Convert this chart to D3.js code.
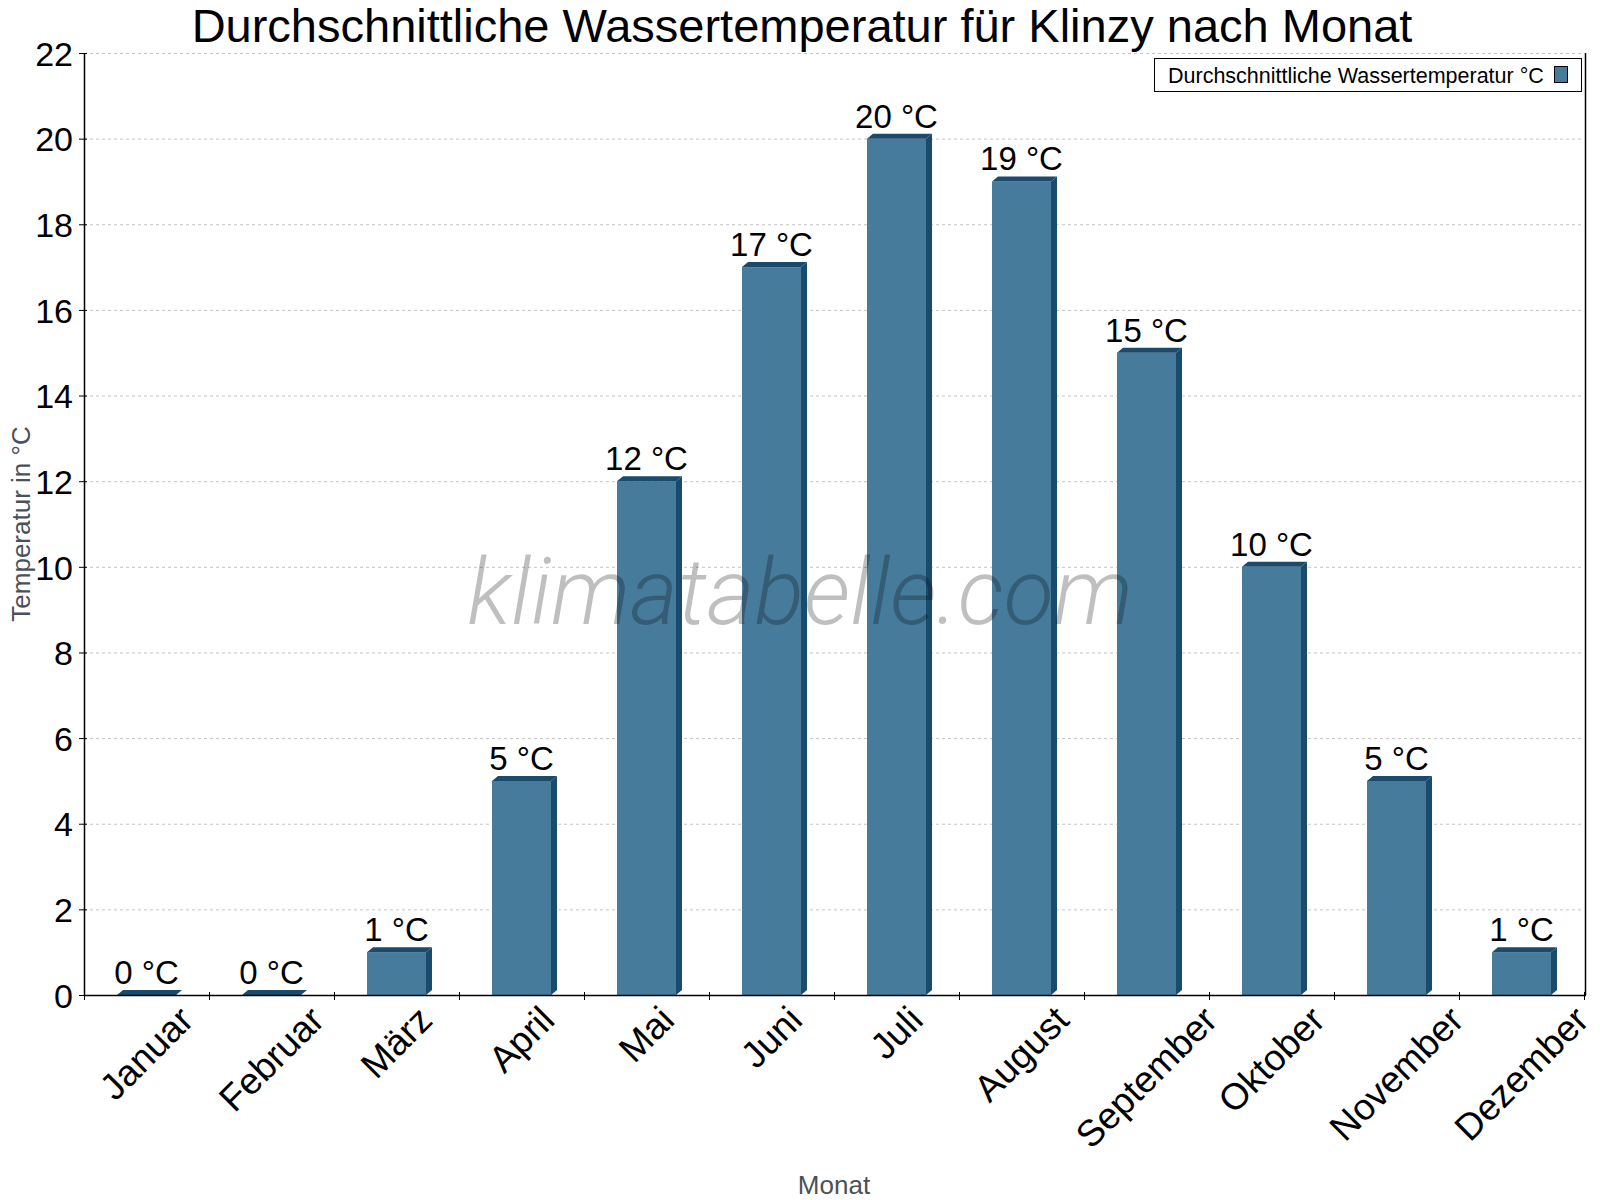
<!DOCTYPE html>
<html>
<head>
<meta charset="utf-8">
<script src="https://cdn.jsdelivr.net/npm/d3@7"></script>
<style>
  html, body { margin: 0; padding: 0; background: #fff; }
</style>
</head>
<body>
<div id="chart-container"></div>
<script>
// Daten: Wassertemperatur je Monat
const monate = ["Januar", "Februar", "März", "April", "Mai", "Juni", "Juli",
    "August", "September", "Oktober", "November", "Dezember"];
const temperaturen = [0, 0, 1, 5, 12, 17, 20, 19, 15, 10, 5, 1];
const yTicks = [0, 2, 4, 6, 8, 10, 12, 14, 16, 18, 20, 22];

const titel = "Durchschnittliche Wassertemperatur für Klinzy nach Monat";
const legendeText = "Durchschnittliche Wassertemperatur °C";

const width = 1600;
const height = 1200;
const plot = { left: 84, right: 1584, top: 53, bottom: 995 };
const font = "'Liberation Sans', Arial, Helvetica, sans-serif";
const farbeFront = "#467b9c";
const farbeDunkel = "#1b4b6c";
const tiefeX = 6, tiefeY = 5; // 3D-Effekt

const svg = d3.select("#chart-container")
    .append("svg")
    .attr("width", width)
    .attr("height", height)
    .style("font-family", font);

// Skalen
const xScale = d3.scaleBand()
    .domain(monate)
    .range([plot.left, plot.right])
    .paddingInner(0.528)
    .paddingOuter(0.264);

const xGrenzen = d3.scaleLinear()
    .domain([0, monate.length])
    .range([plot.left, plot.right]);

const yScale = d3.scaleLinear()
    .domain([0, 22])
    .range([plot.bottom, plot.top]);

// Gitterlinien
svg.append("g")
    .selectAll("line")
    .data(yTicks)
    .enter()
    .append("line")
    .attr("x1", plot.left)
    .attr("x2", plot.right)
    .attr("y1", d => yScale(d) + 0.5)
    .attr("y2", d => yScale(d) + 0.5)
    .attr("stroke", "#c4c4c4")
    .attr("stroke-width", 1)
    .attr("stroke-dasharray", "3,3");

// Balken (mit 3D-Kante)
const balken = svg.append("g")
    .selectAll("g")
    .data(monate.map((m, i) => ({ monat: m, wert: temperaturen[i] })))
    .enter()
    .append("g");

balken.append("rect")
    .attr("x", d => xScale(d.monat))
    .attr("y", d => yScale(d.wert))
    .attr("width", xScale.bandwidth())
    .attr("height", d => yScale(0) - yScale(d.wert))
    .attr("fill", farbeFront);

// Oberseite
balken.append("polygon")
    .attr("points", d => {
        const x0 = xScale(d.monat), x1 = x0 + xScale.bandwidth(), y = yScale(d.wert);
        return [[x0, y], [x0 + tiefeX, y - tiefeY], [x1 + tiefeX, y - tiefeY], [x1, y]].join(" ");
    })
    .attr("fill", farbeDunkel);

// Seite
balken.append("polygon")
    .attr("points", d => {
        const x1 = xScale(d.monat) + xScale.bandwidth(), y = yScale(d.wert), y0 = yScale(0);
        return [[x1, y], [x1 + tiefeX, y - tiefeY], [x1 + tiefeX, y0 - tiefeY], [x1, y0]].join(" ");
    })
    .attr("fill", farbeDunkel);

// Wertbeschriftungen
balken.append("text")
    .attr("x", d => xScale(d.monat) + xScale.bandwidth() / 2)
    .attr("y", d => yScale(d.wert) - 11)
    .attr("text-anchor", "middle")
    .style("font-size", "33px")
    .style("fill", "#000")
    .text(d => `${d.wert} °C`);

// Wasserzeichen (über den Balken)
svg.append("text")
    .attr("x", 800)
    .attr("y", 624)
    .attr("text-anchor", "middle")
    .style("font-family", "Roboto, 'Open Sans', sans-serif")
    .style("font-style", "italic")
    .style("font-weight", 300)
    .style("font-size", "92px")
    .style("fill", "#000")
    .style("fill-opacity", 0.25)
    .text("klimatabelle.com");

// y-Achse
const yAchse = svg.append("g")
    .attr("transform", `translate(${plot.left},0)`)
    .call(d3.axisLeft(yScale).tickValues(yTicks).tickSize(5).tickPadding(6));
yAchse.select(".domain").attr("stroke", "#000").attr("stroke-width", 1.5).attr("d", `M0.5,${plot.top}V${plot.bottom}`);
yAchse.selectAll(".tick line").attr("x1", 3).attr("x2", -5).attr("stroke", "#000");
yAchse.selectAll(".tick text")
    .style("font-family", font)
    .style("font-size", "34px")
    .attr("dy", "0.36em")
    .style("fill", "#000");

// rechte Begrenzung
svg.append("line")
    .attr("x1", plot.right + 1.5)
    .attr("x2", plot.right + 1.5)
    .attr("y1", plot.top)
    .attr("y2", plot.bottom)
    .attr("stroke", "#000")
    .attr("stroke-width", 1.5);

// x-Achse: Striche an den Kategoriegrenzen
const xAchse = svg.append("g")
    .attr("transform", `translate(0,${plot.bottom})`)
    .call(d3.axisBottom(xGrenzen).tickValues(d3.range(0, monate.length + 1)).tickSize(5).tickFormat(""));
xAchse.select(".domain").attr("stroke", "#000").attr("stroke-width", 1.5).attr("d", `M${plot.left},0.5H${plot.right + 2}`);
xAchse.selectAll(".tick line").attr("y1", -3).attr("y2", 5).attr("stroke", "#000");

// x-Beschriftungen, um 45° gedreht, oben ausgerichtet
const labelFont = 37;
const xLabels = svg.append("g")
    .selectAll("text")
    .data(monate)
    .enter()
    .append("text")
    .attr("text-anchor", "middle")
    .attr("dominant-baseline", "central")
    .style("font-size", labelFont + "px")
    .style("fill", "#000")
    .text(d => d);

xLabels.each(function (d) {
    const L = this.getComputedTextLength();
    const h = labelFont * 0.72;
    const cx = xScale(d) + xScale.bandwidth() / 2;
    const cy = 1004 + (L / 2 + h / 2) * Math.SQRT1_2;
    d3.select(this)
        .attr("x", 0)
        .attr("y", 0)
        .attr("transform", `translate(${cx},${cy}) rotate(-45)`);
});

// Achsentitel
svg.append("text")
    .attr("transform", "translate(21,524) rotate(-90)")
    .attr("text-anchor", "middle")
    .attr("dominant-baseline", "central")
    .style("font-size", "26px")
    .style("fill", "#4b5158")
    .text("Temperatur in °C");

svg.append("text")
    .attr("x", (plot.left + plot.right) / 2)
    .attr("y", 1194)
    .attr("text-anchor", "middle")
    .style("font-size", "26px")
    .style("fill", "#4b5158")
    .text("Monat");

// Titel
svg.append("text")
    .attr("x", 802)
    .attr("y", 42)
    .attr("text-anchor", "middle")
    .style("font-size", "47px")
    .style("fill", "#000")
    .text(titel);

// Legende
const legende = svg.append("g");
legende.append("rect")
    .attr("x", 1154.5)
    .attr("y", 58.5)
    .attr("width", 427)
    .attr("height", 33)
    .attr("fill", "#fff")
    .attr("stroke", "#000")
    .attr("stroke-width", 1);
legende.append("text")
    .attr("x", 1168)
    .attr("y", 83)
    .style("font-size", "21.5px")
    .style("fill", "#000")
    .text(legendeText);
legende.append("rect")
    .attr("x", 1554.5)
    .attr("y", 66.5)
    .attr("width", 13)
    .attr("height", 16)
    .attr("fill", farbeFront)
    .attr("stroke", "#000")
    .attr("stroke-width", 1);
</script>
</body>
</html>
